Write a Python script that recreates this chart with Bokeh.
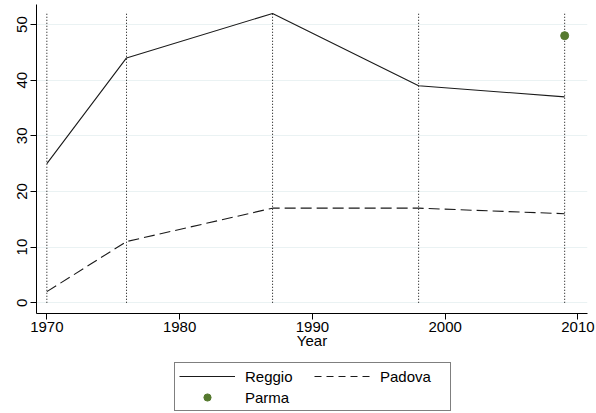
from bokeh.plotting import figure
from bokeh.models import Legend, LegendItem, Range1d, FixedTicker
from bokeh.layouts import column
from bokeh.embed import file_html
from bokeh.resources import INLINE

years = [1970, 1976, 1987, 1998, 2009]
reggio = [25, 44, 52, 39, 37]
padova = [2, 11, 17, 17, 16]
parma_year = [2009]
parma = [48]
x_ticks = [1970, 1980, 1990, 2000, 2010]
y_ticks = [0, 10, 20, 30, 40, 50]

FONT = "Liberation Sans"
FS = "15px"
LINE_C = "#1a1a1a"
DOT_C = "#55792e"

p = figure(width=596, height=351, output_backend="svg", toolbar_location=None,
           x_range=Range1d(1969.22, 2010.72), y_range=Range1d(-1.93, 53.6),
           min_border_left=36, min_border_right=9, min_border_top=4, min_border_bottom=10)
p.outline_line_color = None
p.background_fill_color = "white"
p.border_fill_color = "white"

p.xgrid.grid_line_color = None
p.ygrid.grid_line_color = "#eaf2f3"
p.ygrid.grid_line_width = 1

for ax in (p.xaxis[0], p.yaxis[0]):
    ax.axis_line_color = "black"
    ax.major_tick_line_color = "black"
    ax.major_tick_out = 6
    ax.major_tick_in = 0
    ax.minor_tick_line_color = None
    ax.major_label_text_font = FONT
    ax.major_label_text_font_size = FS
    ax.major_label_text_color = "black"
p.xaxis.ticker = FixedTicker(ticks=x_ticks)
p.yaxis.ticker = FixedTicker(ticks=y_ticks)
p.yaxis.major_label_orientation = "vertical"
p.yaxis.major_label_standoff = 3
p.xaxis.axis_label = "Year"
p.xaxis.axis_label_text_font = FONT
p.xaxis.axis_label_text_font_size = FS
p.xaxis.axis_label_text_font_style = "normal"
p.xaxis.axis_label_text_color = "black"
p.xaxis.axis_label_standoff = -3
p.xaxis.major_label_standoff = 2

p.segment(x0=years, y0=[0] * len(years), x1=years, y1=[52.3] * len(years),
          line_color="black", line_dash="1 2", line_width=1)

p.line(years, reggio, line_color=LINE_C, line_width=1.1)
p.line(years, padova, line_color=LINE_C, line_width=1.1, line_dash="11 5")
p.scatter(parma_year, parma, size=8, fill_color=DOT_C, line_color=DOT_C)

# legend panel (proxy renderers lie outside its visible range)
lg = figure(width=596, height=62, output_backend="svg", toolbar_location=None,
            x_range=Range1d(0, 1), y_range=Range1d(0, 1),
            min_border_left=0, min_border_right=0, min_border_top=0, min_border_bottom=0)
lg.axis.visible = False
lg.grid.visible = False
lg.outline_line_color = None
lg.border_fill_color = "white"
l1 = lg.line(years, reggio, line_color=LINE_C, line_width=1.1)
l2 = lg.line(years, padova, line_color=LINE_C, line_width=1.1, line_dash="7 5")
l3 = lg.scatter(parma_year, parma, size=8, fill_color=DOT_C, line_color=DOT_C)

legend = Legend(items=[LegendItem(label="Reggio", renderers=[l1]),
                       LegendItem(label="Padova", renderers=[l2]),
                       LegendItem(label="Parma", renderers=[l3])],
                orientation="horizontal", ncols=2,
                location=(138, 2), margin=0,
                border_line_color="black", border_line_width=1,
                label_text_font=FONT, label_text_font_size=FS,
                label_text_color="black",
                glyph_width=56, glyph_height=18, label_standoff=10,
                label_width=66, label_height=18,
                spacing=3, padding=4)
lg.add_layout(legend, "center")

layout = column(p, lg, spacing=0)
open("out.html", "w").write(file_html(layout, INLINE))
